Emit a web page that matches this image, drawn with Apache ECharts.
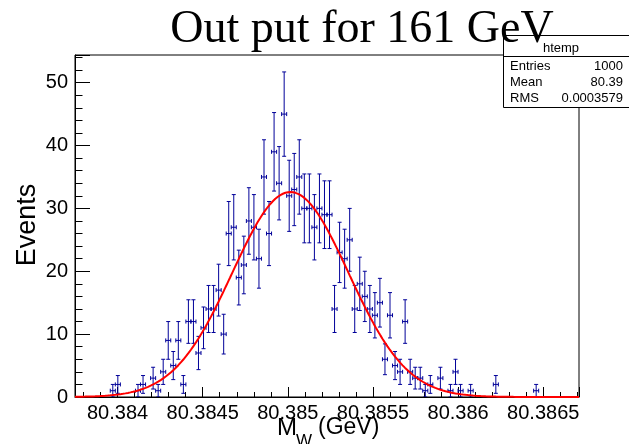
<!DOCTYPE html>
<html>
<head>
<meta charset="utf-8">
<script src="https://cdn.jsdelivr.net/npm/echarts@6/dist/echarts.min.js"></script>
<style>
  html, body { margin: 0; padding: 0; background: #ffffff; }
  #chart { width: 629px; height: 444px; }
</style>
</head>
<body>
<div id="chart"></div>
<script>
// Histogram "htemp": reconstructed W mass, 100 equal bins
const HIST_MIN = 80.38375;
const HIST_MAX = 80.38671;
const N_BINS = 100;
const binCounts = [
  0, 0, 0, 0, 0, 0, 0, 1, 2, 0,
  0, 0, 1, 2, 0, 3, 1, 4, 9, 5,
  9, 2, 12, 12, 7, 11, 14, 14, 17, 10,
  26, 27, 19, 21, 28, 27, 22, 35, 26, 39,
  34, 45, 32, 33, 35, 30, 30, 27, 30, 29,
  29, 14, 23, 22, 25, 14, 18, 16, 14, 13,
  15, 6, 13, 5, 4, 12, 4, 3, 3, 1,
  2, 0, 3, 0, 1, 4, 1, 0, 1, 0,
  0, 0, 0, 2, 0, 0, 0, 0, 0, 0,
  0, 1, 0, 0, 0, 0, 0, 0, 0, 0
];

// Gaussian fit parameters
const FIT_CONST = 32.6;
const FIT_MEAN = 80.385015;
const FIT_SIGMA = 0.000341;

// Axis ranges and labels
const Y_MAX = 54.4;
const xTickLabels = ['80.384', '80.3845', '80.385', '80.3855', '80.386', '80.3865'];
const yTickLabels = ['0', '10', '20', '30', '40', '50'];

// Statistics box
const statsName = 'htemp';
const statsLabels = ['Entries', 'Mean', 'RMS'];
const statsValues = ['1000', '80.39', '0.0003579'];

const titleText = 'Out put for 161 GeV';

const BIN_W = (HIST_MAX - HIST_MIN) / N_BINS;
const SANS = 'Liberation Sans, Arial, sans-serif';
const SERIF = 'Liberation Serif, Times New Roman, serif';
const HIST_COLOR = '#000099';

const pointData = [];
binCounts.forEach(function (n, k) {
  if (n > 0) pointData.push([HIST_MIN + BIN_W * (k + 0.5), n]);
});

const fitData = [];
const FIT_STEPS = 400;
for (let i = 0; i <= FIT_STEPS; i++) {
  const x = HIST_MIN + (HIST_MAX - HIST_MIN) * i / FIT_STEPS;
  const z = (x - FIT_MEAN) / FIT_SIGMA;
  fitData.push([x, FIT_CONST * Math.exp(-0.5 * z * z)]);
}

function tickText(list, v, digits) {
  const s = String(parseFloat(v.toFixed(digits)));
  return list.indexOf(s) >= 0 ? s : '';
}

// Error bar: vertical sqrt(N), horizontal half bin width, small end caps
function renderErrorBar(params, api) {
  const x = api.value(0);
  const n = api.value(1);
  const e = Math.sqrt(n);
  const top = api.coord([x, n + e]);
  const bot = api.coord([x, n - e]);
  const lft = api.coord([x - BIN_W / 2, n]);
  const rgt = api.coord([x + BIN_W / 2, n]);
  const cap = 2;
  const segs = [
    [top[0], top[1], bot[0], bot[1]],
    [lft[0], lft[1], rgt[0], rgt[1]],
    [top[0] - cap, top[1], top[0] + cap, top[1]],
    [bot[0] - cap, bot[1], bot[0] + cap, bot[1]],
    [lft[0], lft[1] - cap, lft[0], lft[1] + cap],
    [rgt[0], rgt[1] - cap, rgt[0], rgt[1] + cap]
  ];
  return {
    type: 'group',
    children: segs.map(function (s) {
      return {
        type: 'line',
        shape: { x1: s[0], y1: s[1], x2: s[2], y2: s[3] },
        style: { stroke: HIST_COLOR, lineWidth: 1 }
      };
    })
  };
}

const statsChildren = [
  { type: 'rect', shape: { x: 503.5, y: 35.5, width: 140, height: 72 },
    style: { fill: '#ffffff', stroke: '#000000', lineWidth: 1 } },
  { type: 'line', shape: { x1: 503.5, y1: 56.5, x2: 640, y2: 56.5 },
    style: { stroke: '#000000', lineWidth: 1 } },
  { type: 'text', x: 561, y: 48,
    style: { text: statsName, font: '13px ' + SANS, fill: '#000', align: 'center', verticalAlign: 'middle' } }
];
statsLabels.forEach(function (lab, i) {
  const y = 66.5 + i * 16;
  statsChildren.push({ type: 'text', x: 510, y: y,
    style: { text: lab, font: '13px ' + SANS, fill: '#000', align: 'left', verticalAlign: 'middle' } });
  statsChildren.push({ type: 'text', x: 623, y: y,
    style: { text: statsValues[i], font: '13px ' + SANS, fill: '#000', align: 'right', verticalAlign: 'middle' } });
});

const chart = echarts.init(document.getElementById('chart'), null, { renderer: 'canvas' });
chart.setOption({
  animation: false,
  backgroundColor: '#ffffff',
  grid: {
    left: 75, right: 50, top: 55, bottom: 47,
    show: true, borderColor: '#000000', borderWidth: 1, backgroundColor: '#ffffff'
  },
  xAxis: {
    type: 'value',
    min: HIST_MIN,
    max: HIST_MAX,
    axisLine: { show: true, lineStyle: { color: '#000', width: 1 } },
    axisTick: { show: true, inside: true, length: 10, lineStyle: { color: '#000' } },
    minorTick: { show: true, splitNumber: 5, length: 5, lineStyle: { color: '#000' } },
    splitLine: { show: false },
    axisLabel: {
      show: true, margin: 6, color: '#000', fontSize: 20, fontFamily: SANS,
      formatter: function (v) { return tickText(xTickLabels, v, 5); }
    }
  },
  yAxis: {
    type: 'value',
    min: 0,
    max: Y_MAX,
    interval: 10,
    axisLine: { show: true, lineStyle: { color: '#000', width: 1 } },
    axisTick: { show: true, inside: true, length: 15, lineStyle: { color: '#000' } },
    minorTick: { show: true, splitNumber: 5, length: 7.5, lineStyle: { color: '#000' } },
    splitLine: { show: false },
    axisLabel: {
      show: true, margin: 7, color: '#000', fontSize: 20, fontFamily: SANS,
      formatter: function (v) { return tickText(yTickLabels, v, 3); }
    }
  },
  series: [
    {
      type: 'custom',
      name: 'htemp',
      renderItem: renderErrorBar,
      data: pointData,
      z: 2,
      clip: true
    },
    {
      type: 'line',
      name: 'gaus',
      data: fitData,
      showSymbol: false,
      smooth: false,
      lineStyle: { color: '#ff0000', width: 2 },
      z: 3
    }
  ],
  graphic: [
    { type: 'group', z: 100, children: statsChildren },
    { type: 'text', z: 110, x: 362, y: 30,
      style: { text: titleText, font: '46px ' + SERIF, fill: '#000', align: 'center', verticalAlign: 'middle' } },
    { type: 'text', z: 100, x: 28, y: 225, rotation: Math.PI / 2,
      style: { text: 'Events', font: '27px ' + SANS, fill: '#000', align: 'center', verticalAlign: 'middle' } },
    { type: 'text', z: 100, x: 277, y: 428,
      style: { text: 'M', font: '24px ' + SANS, fill: '#000', align: 'left', verticalAlign: 'middle' } },
    { type: 'text', z: 100, x: 296, y: 441,
      style: { text: 'W', font: '17px ' + SANS, fill: '#000', align: 'left', verticalAlign: 'middle' } },
    { type: 'text', z: 100, x: 318, y: 428,
      style: { text: '(GeV)', font: '23px ' + SANS, fill: '#000', align: 'left', verticalAlign: 'middle' } }
  ]
});
</script>
</body>
</html>
